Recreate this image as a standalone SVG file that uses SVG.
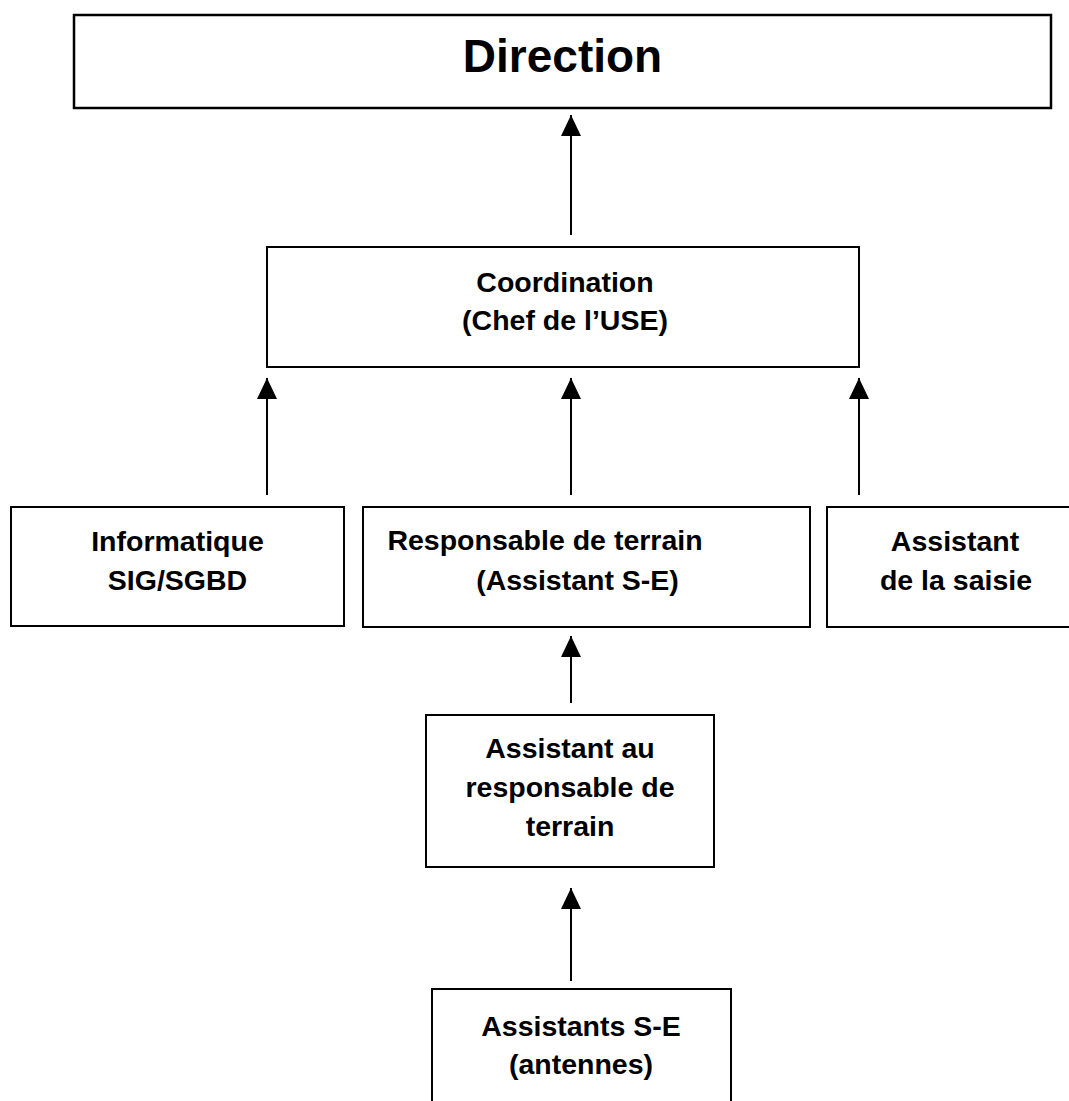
<svg xmlns="http://www.w3.org/2000/svg" width="1069" height="1101" viewBox="0 0 1069 1101">
<style>
  .box { fill: #ffffff; stroke: #000000; stroke-width: 2; }
  .t { font-family: "Liberation Sans", Arial, sans-serif; font-weight: bold; fill: #000000; text-anchor: middle; }
  .m { font-size: 28.5px; }
  .conn { stroke: #000000; stroke-width: 2; fill: none; marker-end: url(#arrow); }
</style>
<defs>
  <marker id="arrow" viewBox="0 0 21 20" refX="21" refY="10" markerWidth="21" markerHeight="20" markerUnits="userSpaceOnUse" orient="auto">
    <path d="M0,0 L21,10 L0,20 Z" fill="#000000"/>
  </marker>
</defs>
<rect width="1069" height="1101" fill="#ffffff"/>

<g id="connectors">
  <line class="conn" x1="571" y1="235" x2="571" y2="115"/>
  <line class="conn" x1="267" y1="495" x2="267" y2="378"/>
  <line class="conn" x1="571" y1="495" x2="571" y2="378"/>
  <line class="conn" x1="859" y1="495" x2="859" y2="378"/>
  <line class="conn" x1="571" y1="703" x2="571" y2="636"/>
  <line class="conn" x1="571" y1="981" x2="571" y2="888"/>
</g>

<g id="direction">
  <rect class="box" x="74" y="15" width="977" height="93" style="stroke-width:2.5"/>
  <text class="t" x="562.5" y="72" style="font-size:46px">Direction</text>
</g>

<g id="coordination">
  <rect class="box" x="267" y="247" width="592" height="120"/>
  <text class="t m" x="565" y="292">Coordination</text>
  <text class="t m" x="565" y="330">(Chef de l’USE)</text>
</g>

<g id="informatique">
  <rect class="box" x="11" y="507" width="333" height="119"/>
  <text class="t m" x="177.5" y="551">Informatique</text>
  <text class="t m" x="177.5" y="590">SIG/SGBD</text>
</g>

<g id="responsable">
  <rect class="box" x="363" y="507" width="447" height="120"/>
  <text class="t m" x="545" y="550">Responsable de terrain</text>
  <text class="t m" x="577.5" y="590">(Assistant S-E)</text>
</g>

<g id="saisie">
  <rect class="box" x="827" y="507" width="260" height="120"/>
  <text class="t m" x="955" y="551">Assistant</text>
  <text class="t m" x="956" y="590">de la saisie</text>
</g>

<g id="assistant-au">
  <rect class="box" x="426" y="715" width="288" height="152"/>
  <text class="t m" x="570" y="758">Assistant au</text>
  <text class="t m" x="570" y="797">responsable de</text>
  <text class="t m" x="570" y="836">terrain</text>
</g>

<g id="assistants-se">
  <rect class="box" x="432" y="989" width="299" height="130"/>
  <text class="t m" x="581" y="1036">Assistants S-E</text>
  <text class="t m" x="581" y="1074">(antennes)</text>
</g>
</svg>
